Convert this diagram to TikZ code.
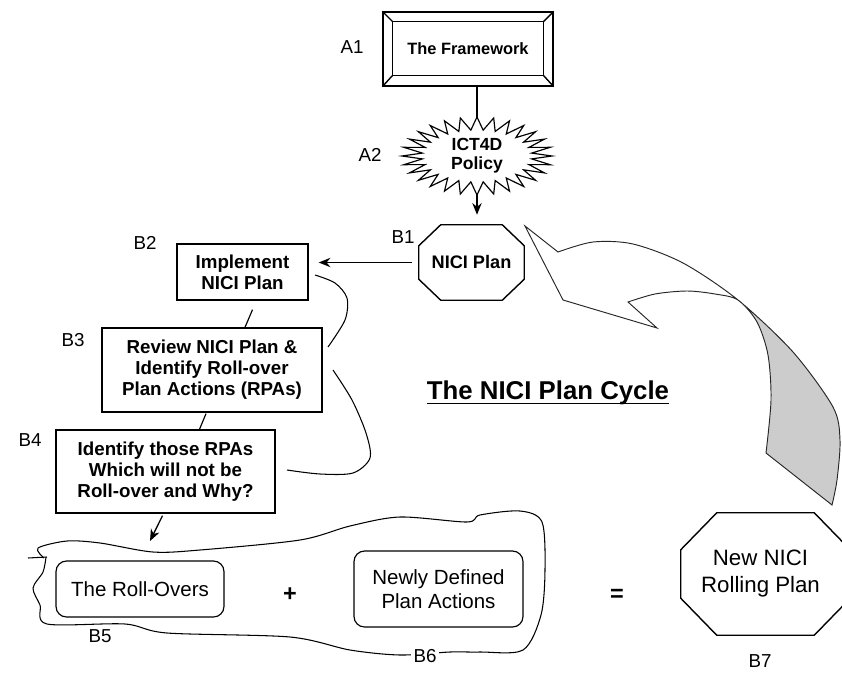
\documentclass[tikz,border=0pt]{standalone}
\usepackage{fontspec}
\setmainfont{Liberation Sans}
\usetikzlibrary{arrows.meta, calc}

\tikzset{
  boldbox/.style={rectangle,draw,line width=1.2pt,align=center,font=\fontsize{16}{18}\selectfont\bfseries,inner sep=2pt},
  softbox/.style={rectangle,draw,line width=1pt,rounded corners=9pt,align=center,font=\fontsize{17.5}{21}\selectfont},
  tag/.style={font=\fontsize{16}{18}\selectfont,fill=white,inner sep=2pt},
  sketch/.style={line width=0.9pt},
  link/.style={line width=1.1pt,-{Stealth[length=10pt,width=8pt]}},
}

% octagon round a node: node, cut in x, cut in y
\newcommand{\octagonround}[3]{%
  \draw[line width=1.2pt] ($(#1.north west)+(#2,0)$) -- ($(#1.north east)+(-#2,0)$) -- ($(#1.north east)+(0,#3)$)
    -- ($(#1.south east)+(0,-#3)$) -- ($(#1.south east)+(-#2,0)$) -- ($(#1.south west)+(#2,0)$)
    -- ($(#1.south west)+(0,-#3)$) -- ($(#1.north west)+(0,#3)$) -- cycle;}

% the big curved arrow
\newcommand{\ribbonpath}{(525,226) -- (558,252)
  -- plot[smooth] coordinates {(558,252) (593,242) (633,244) (683,263) (738,300) (793,352) (833,407) (840,440) (837,480) (832,505)}
  -- (766,453)
  -- plot[smooth] coordinates {(766,453) (771,400) (768,355) (757,322) (738,300) (715,294) (687,291) (655,294) (628,302)}
  -- (657,328) -- (563,300) -- cycle}

\begin{document}
\begin{tikzpicture}[x=0.03cm,y=-0.03cm]
    \useasboundingbox (0,0) rectangle (842,673);

    % A1 framework
    \node[draw,line width=1.2pt,minimum width=5.1cm,minimum height=2.22cm,font=\fontsize{14}{16}\selectfont\bfseries] (fw) at (468,49) {The Framework};
    \draw[line width=1.2pt] ($(fw.north west)+(10,10)$) rectangle ($(fw.south east)+(-10,-11)$);
    \foreach \a/\dx/\dy in {north west/10/10, north east/-10/10, south west/10/-11, south east/-10/-11}
        \draw[line width=1.2pt] (fw.\a) -- ++(\dx,\dy);
    \node[tag] (la1) at (352,47) {A1};

    % A2 policy
    \node[align=center,font=\fontsize{15}{16}\selectfont\bfseries] (sb) at (477,156) {ICT4D\\Policy};
    \draw[line width=1pt] ($(sb.center)+(75,0)$)
        \foreach \k in {1,...,55} { -- ($(sb.center)+({(75-20*mod(\k,2))*cos(360/56*\k)},{(39-13*mod(\k,2))*sin(360/56*\k)})$) } -- cycle;
    \coordinate (sbtop) at ($(sb.center)+(0,-37)$);
    \coordinate (sbbot) at ($(sb.center)+(0,37)$);
    \node[tag] (la2) at (370,155) {A2};
    \draw[line width=1.2pt] (fw.south -| sbtop) -- (sbtop);

    % B1 plan
    \node[minimum width=3.15cm,minimum height=2.25cm,font=\fontsize{15.5}{17}\selectfont\bfseries] (b1) at (471.5,262.5) {NICI Plan};
    \octagonround{b1}{22}{21}
    \node[tag] (lb1) at (403,237) {B1};
    \draw[link,shorten >=0.3cm] (sbbot) -- (sbbot |- b1.north);

    % B2 - B4 steps
    \node[boldbox,minimum width=3.93cm,minimum height=1.68cm] (b2) at (242.5,272) {Implement\\NICI Plan};
    \node[boldbox,minimum width=6.6cm,minimum height=2.52cm] (b3) at (212,370) {Review NICI Plan \&\\Identify Roll-over\\Plan Actions (RPAs)};
    \node[boldbox,minimum width=6.57cm,minimum height=2.49cm] (b4) at (165.5,471.5) {Identify those RPAs\\Which will not be\\Roll-over and Why?};
    \node[tag] (lb2) at (145,243) {B2};
    \node[tag] (lb3) at (73,340) {B3};
    \node[tag] (lb4) at (30,440) {B4};

    \draw[link,shorten <=0.21cm,shorten >=0.3cm] (b1.west) -- (b1.west -| b2.east);
    \draw[line width=1pt] ($(b2.south)+(10,9)$) -- ($(b3.north)+(33,0)$);
    \draw[line width=1pt] ($(b3.south)+(-6,1)$) -- ($(b4.north)+(34,0)$);
    \coordinate (blobin) at (150,541);
    \draw[link] ($(b4.south)+(-3,2)$) -- (blobin);

    % hand drawn braces
    \draw[sketch] plot[smooth] coordinates {(315,275) (335,283) (347,298) (345,320) (328,347)};
    \draw[sketch] plot[smooth] coordinates {(333,370) (352,400) (366,433) (370,458) (353,473) (320,474) (287,470)};

    % title
    \node[inner sep=0pt,font=\fontsize{22}{25}\selectfont\bfseries] (title) at (548,393) {The NICI Plan Cycle};
    \draw[line width=0.8pt] ([yshift=-3.5pt]title.base west) -- ([yshift=-3.5pt]title.base east);

    % cycle arrow
    \fill[gray!40] \ribbonpath;
    \begin{scope}
        \clip (0,0) rectangle (738,673);
        \fill[white] \ribbonpath;
    \end{scope}
    \draw[line width=0.8pt,black!85] \ribbonpath;

    % blob round B5 and B6
    \draw[sketch] plot[smooth] coordinates {(44,558) (38,548) (67,541) (100,543) (153,552) (200,550) (300,540) (350,526) (400,517) (467,522) (480,515) (520,511) (542,522) (545,570) (541,615) (523,650) (480,652) (450,652) (400,655) (350,650) (290,637) (167,633) (125,624) (47,624) (40,605) (33,588) (43,572) (46,557)};
    \draw[sketch] (28,558) -- (47,557);

    \node[softbox,minimum width=5.04cm,minimum height=1.68cm] (b5) at (140,589) {The Roll-Overs};
    \node[softbox,minimum width=5.07cm,minimum height=2.28cm] (b6) at (438.5,589) {Newly Defined\\Plan Actions};
    \node[font=\fontsize{20}{22}\selectfont\bfseries] (plus) at (290,595) {+};
    \node[font=\fontsize{20}{22}\selectfont\bfseries] (eq) at (617,595) {=};
    \node[tag] (lb5) at (100,636) {B5};
    \node[tag] (lb6) at (425,656) {B6};

    % B7 new plan
    \node[minimum width=5.07cm,minimum height=3.66cm,align=center,font=\fontsize{19}{23}\selectfont] (b7) at (765.5,574) {\hspace*{-0.3cm}New NICI\\\hspace*{-0.3cm}Rolling Plan};
    \octagonround{b7}{36}{37}
    \node[tag] (lb7) at (760,661) {B7};
\end{tikzpicture}
\end{document}
